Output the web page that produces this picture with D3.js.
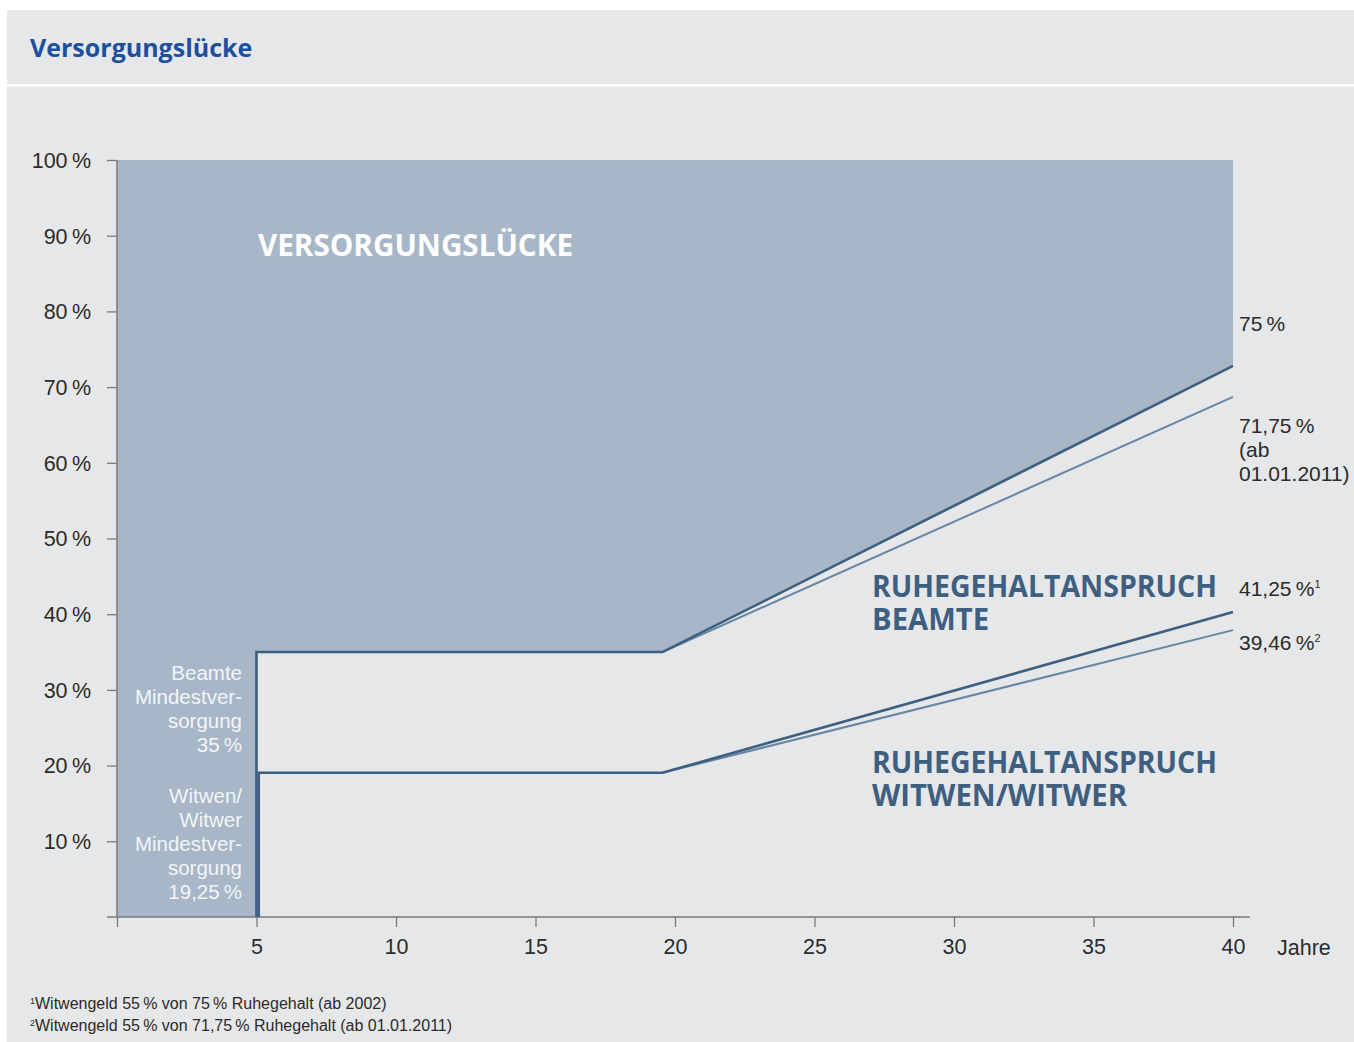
<!DOCTYPE html>
<html>
<head>
<meta charset="utf-8">
<script src="https://cdn.jsdelivr.net/npm/d3@7"></script>
<style>
  body { margin: 0; background: #fff; }
  text { font-family: "Liberation Sans", Arial, sans-serif; }
  .head { font-family: "Open Sans", "Noto Sans", sans-serif; font-weight: 700; }
</style>
</head>
<body>
<div id="chart"></div>
<script>
// --- data ---
const xTicks = [0, 5, 10, 15, 20, 25, 30, 35, 40];
const yTicks = [10, 20, 30, 40, 50, 60, 70, 80, 90, 100];

// Beamte (75 % rule) and the newer 71,75 % rule
const beamteYears = [5, 5, 19.55, 40];
const beamteValues = [0, 35, 35, 72.8];
const beamteNeuYears = [19.55, 40];
const beamteNeuValues = [35, 68.7];

// Witwen/Witwer
const witwenYears = [5.08, 5.08, 19.55, 40];
const witwenValues = [0, 19.05, 19.05, 40.3];
const witwenNeuYears = [19.55, 40];
const witwenNeuValues = [19.05, 37.9];

const rightLabels = [
  { lines: ["75\u2009%"], y: 331 },
  { lines: ["71,75\u2009%", "(ab", "01.01.2011)"], y: 433 },
  { lines: ["41,25\u2009%"], sup: "1", y: 596 },
  { lines: ["39,46\u2009%"], sup: "2", y: 650 }
];
const leftLabels = [
  { lines: ["Beamte", "Mindestver-", "sorgung", "35\u2009%"], y: 680 },
  { lines: ["Witwen/", "Witwer", "Mindestver-", "sorgung", "19,25\u2009%"], y: 803 }
];
const footnotes = [
  { sup: "1", text: "Witwengeld 55\u2009% von 75\u2009% Ruhegehalt (ab 2002)" },
  { sup: "2", text: "Witwengeld 55\u2009% von 71,75\u2009% Ruhegehalt (ab 01.01.2011)" }
];

const width = 1354, height = 1042;
const svg = d3.select("#chart").append("svg")
  .attr("width", width)
  .attr("height", height);

// panel background
svg.append("rect").attr("x", 7).attr("y", 10)
  .attr("width", width - 7).attr("height", height - 10)
  .attr("fill", "#e6e7e9");
svg.append("rect").attr("x", 7).attr("y", 84)
  .attr("width", width - 7).attr("height", 2.5)
  .attr("fill", "#fff");

svg.append("text").attr("class", "head")
  .attr("x", 30).attr("y", 57)
  .attr("font-size", 25)
  .attr("fill", "#1d4f9e")
  .text("Versorgungslücke");

const x = d3.scaleLinear().domain([0, 40]).range([117, 1233]);
const y = d3.scaleLinear().domain([0, 100]).range([917, 160]);

// gap area: from 100 % down to the Beamte curve
const gapPts = [[0, 0]].concat(beamteYears.map((d, i) => [d, beamteValues[i]]));
const area = d3.area()
  .x(d => x(d[0]))
  .y0(d => y(d[1]))
  .y1(y(100));
svg.append("path")
  .datum(gapPts)
  .attr("d", area)
  .attr("fill", "#a7b7c7");

// axes
const axisColor = "#7a7a7a";
const yAxis = svg.append("g")
  .attr("transform", `translate(${x(0)},0)`)
  .call(d3.axisLeft(y).tickValues(yTicks).tickSize(10).tickPadding(16)
    .tickFormat(d => d + "\u2009%"));
yAxis.select(".domain").attr("d", `M0,${y(100)}V${y(0)}`);

const xAxis = svg.append("g")
  .attr("transform", `translate(0,${y(0)})`)
  .call(d3.axisBottom(x).tickValues(xTicks).tickSize(10).tickPadding(12)
    .tickFormat(d => d === 0 ? "" : d));
xAxis.select(".domain").attr("d", `M${x(0) - 10},0H1250`);

[yAxis, xAxis].forEach(g => {
  g.selectAll(".domain").attr("stroke", axisColor).attr("stroke-width", 1.5);
  g.selectAll(".tick line").attr("stroke", axisColor).attr("stroke-width", 1.3);
  g.selectAll(".tick text")
    .attr("font-family", "Liberation Sans, Arial, sans-serif")
    .attr("font-size", 21.5)
    .attr("fill", "#2b2b2b");
});
yAxis.selectAll(".tick text").attr("dy", "0.34em");

svg.append("text")
  .attr("x", 1277).attr("y", 955)
  .attr("font-size", 21.5).attr("fill", "#2b2b2b")
  .text("Jahre");

// lines
const line = d3.line().x(d => x(d[0])).y(d => y(d[1]));
const zip = (a, b) => a.map((d, i) => [d, b[i]]);

svg.append("path").datum(zip(witwenNeuYears, witwenNeuValues))
  .attr("d", line).attr("fill", "none")
  .attr("stroke", "#6786a4").attr("stroke-width", 2);
svg.append("path").datum(zip(beamteNeuYears, beamteNeuValues))
  .attr("d", line).attr("fill", "none")
  .attr("stroke", "#6786a4").attr("stroke-width", 2);
svg.append("path").datum(zip(witwenYears, witwenValues))
  .attr("d", line).attr("fill", "none")
  .attr("stroke", "#3e5f80").attr("stroke-width", 2.6);
svg.append("path").datum(zip(beamteYears, beamteValues))
  .attr("d", line).attr("fill", "none")
  .attr("stroke", "#3e5f80").attr("stroke-width", 2.6);

// big labels
svg.append("text").attr("class", "head")
  .attr("x", 258).attr("y", 256)
  .attr("font-size", 31).attr("fill", "#fff")
  .attr("textLength", 315).attr("lengthAdjust", "spacingAndGlyphs")
  .text("VERSORGUNGSLÜCKE");

const headBlocks = [
  { lines: ["RUHEGEHALTANSPRUCH", "BEAMTE"], y: 597, widths: [345, 117] },
  { lines: ["RUHEGEHALTANSPRUCH", "WITWEN/WITWER"], y: 773, widths: [345, 255] }
];
headBlocks.forEach(b => {
  b.lines.forEach((t, i) => {
    svg.append("text").attr("class", "head")
      .attr("x", 872).attr("y", b.y + i * 33)
      .attr("font-size", 31).attr("fill", "#3e5f80")
      .attr("textLength", b.widths[i]).attr("lengthAdjust", "spacingAndGlyphs")
      .text(t);
  });
});

// right value labels
rightLabels.forEach(l => {
  const t = svg.append("text")
    .attr("x", 1239).attr("y", l.y)
    .attr("font-size", 21).attr("fill", "#2b2b2b");
  l.lines.forEach((s, i) => {
    t.append("tspan").attr("x", 1239).attr("y", l.y + i * 24).text(s);
  });
  if (l.sup) {
    t.append("tspan").attr("dy", -8).attr("font-size", 11).text(l.sup);
  }
});

// left labels in the gap area
leftLabels.forEach(l => {
  const t = svg.append("text")
    .attr("text-anchor", "end")
    .attr("font-size", 20.5).attr("fill", "#f3f5f8");
  l.lines.forEach((s, i) => {
    t.append("tspan").attr("x", 242).attr("y", l.y + i * 24).text(s);
  });
});

// footnotes
footnotes.forEach((f, i) => {
  const t = svg.append("text")
    .attr("x", 30).attr("y", 1009 + i * 22)
    .attr("font-size", 16).attr("fill", "#2b2b2b");
  t.append("tspan").attr("dy", -5).attr("font-size", 9).text(f.sup);
  t.append("tspan").attr("dy", 5).text(f.text);
});
</script>
</body>
</html>
